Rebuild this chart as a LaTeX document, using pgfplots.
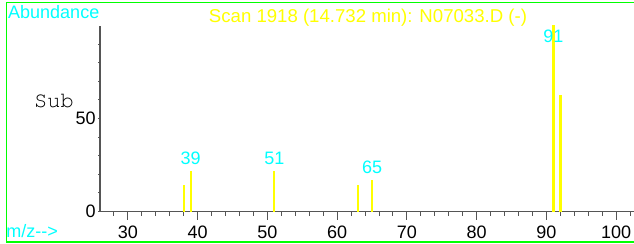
\documentclass[border=0pt]{standalone}
\usepackage[T1]{fontenc}
\usepackage{fontspec}
\setmainfont{Liberation Sans}
\usepackage{pgfplots}
\pgfplotsset{compat=1.18}
\definecolor{cy}{RGB}{0,255,255}
\definecolor{ye}{RGB}{255,255,0}
\definecolor{gr}{RGB}{0,255,0}
\definecolor{ax}{RGB}{85,85,85}
\newcommand{\fs}{\fontsize{18bp}{20bp}\selectfont}
\newcommand{\subfont}{\fontencoding{T1}\fontfamily{pcr}\fontsize{22bp}{24bp}\selectfont}
\begin{document}
\begin{tikzpicture}
\useasboundingbox (0bp,0bp) rectangle (634bp,-244bp);
\draw[gr, line width=1.4bp] (634bp,-2.4bp) -- (6.7bp,-2.4bp) -- (6.7bp,-242bp) -- (634bp,-242bp);
\node[anchor=base west, inner sep=0pt, text=cy, font=\fs] at (8bp,-18.5bp) {Abundance};
\node[anchor=base, inner sep=0pt, text=ye, font=\fontsize{18.6bp}{20bp}\selectfont] at (368bp,-22bp) {Scan 1918 (14.732 min): N07033.D (-)};
\node[anchor=base west, inner sep=0pt, text=cy, font=\fs] at (6.2bp,-237.3bp) {m/z-{}-{}>};
\node[anchor=base west, inner sep=0pt, font=\subfont] at (34bp,-107bp) {Sub};
\begin{axis}[
  at={(100bp,-211.5bp)}, anchor=south west,
  scale only axis, width=534bp, height=185.3bp,
  xmin=26, xmax=102.55, ymin=0, ymax=99.6,
  axis x line=bottom, axis y line=left,
  axis line style={ax, line width=1.2bp, -},
  tick align=outside,
  xtick={30,40,...,100},
  minor xtick={28,32,34,36,38,42,44,46,48,52,54,56,58,62,64,66,68,72,74,76,78,82,84,86,88,92,94,96,98,102},
  ytick={0,50},
  minor ytick={10,20,30,40,60,70,80,90},
  xtick style={ax, line width=1bp, /pgfplots/major tick length=8bp, /pgfplots/minor tick length=4.3bp},
  ytick style={ax, line width=1bp, /pgfplots/major tick length=2bp, /pgfplots/minor tick length=2bp},
  /pgf/number format/assume math mode=true,
  ticklabel style={font=\fs, text=black, inner sep=0pt},
  xticklabel style={yshift=-10bp},
  clip=false,
]
\addplot[ycomb, ye, line width=2.2bp, mark=none] coordinates {
  (38,14.1) (39,21.8) (51,21.8) (63,14.1) (65,16.9) (91,100) (92,62.6)
};
\addplot[draw=none, mark=none, nodes near coords, point meta=explicit symbolic,
  nodes near coords style={anchor=center, inner sep=0pt, text=cy, font=\fs}]
  coordinates {(39,28.4)[39] (51,28.4)[51] (65,23.6)[65] (91,94)[91]};
\end{axis}
\end{tikzpicture}
\end{document}
